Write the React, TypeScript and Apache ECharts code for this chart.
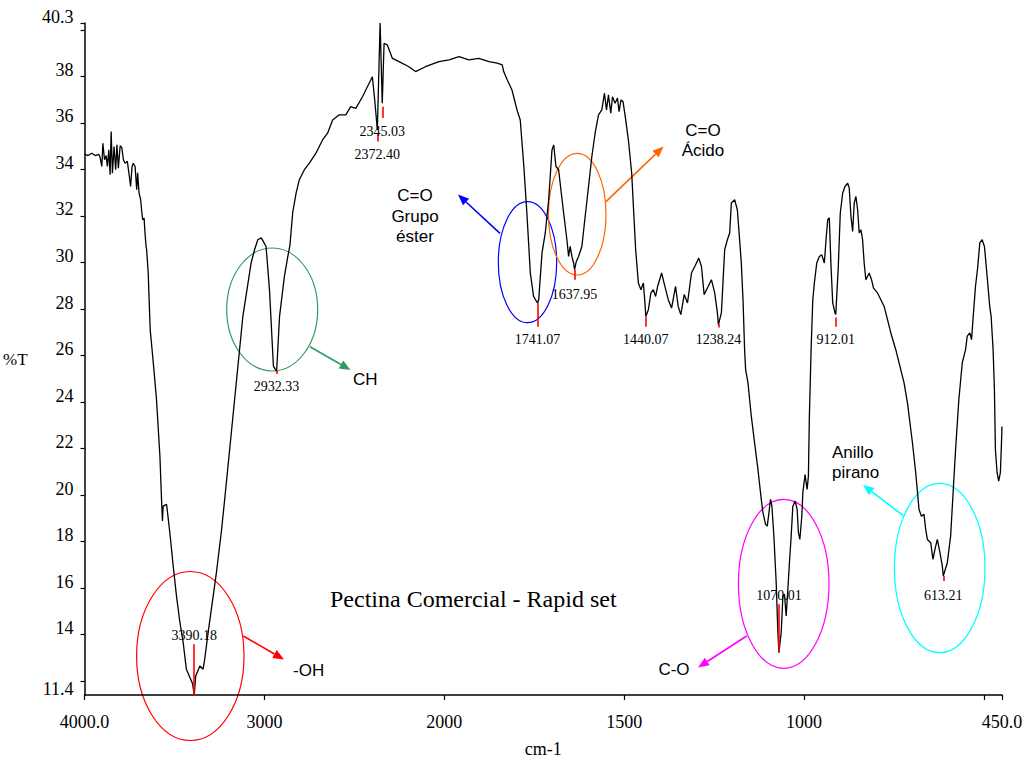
import React, { useEffect, useRef } from "react";
import * as echarts from "echarts";

// FTIR spectrum (wavenumber cm-1, %T)
const wavenumber = [
  4000, 3980, 3960, 3940, 3920, 3913, 3904, 3898, 3889, 3880, 3873, 3865, 3858, 3852, 3845, 3836, 3827, 3820, 3812, 3802,
  3793, 3784, 3775, 3762, 3751, 3744, 3736, 3729, 3719, 3710, 3705, 3697, 3688, 3683, 3677, 3669, 3664, 3658, 3655, 3646,
  3643, 3635, 3618, 3600, 3581, 3572, 3567, 3563, 3544, 3526, 3507, 3489, 3470, 3452, 3434, 3415, 3400, 3390.18, 3382, 3359,
  3341, 3332, 3313, 3295, 3267, 3240, 3221, 3175, 3120, 3074, 3055, 3037, 3018, 3009, 2991, 2972, 2950, 2932.33, 2916, 2889,
  2870, 2858, 2843, 2824, 2806, 2778, 2750, 2714, 2677, 2649, 2621, 2584, 2548, 2520, 2492, 2455, 2418, 2400, 2387, 2372.4,
  2357, 2345.03, 2335, 2317, 2289, 2252, 2197, 2160, 2105, 2030, 1987, 1959, 1932, 1904, 1876, 1853, 1839, 1835, 1825, 1812,
  1798, 1789, 1779, 1770, 1761, 1752, 1741.07, 1737.7, 1728.5, 1719.4, 1710, 1700.8, 1696, 1689.8, 1682.3, 1676, 1668.4, 1659.3, 1654.6, 1650.2,
  1645.4, 1640.7, 1637.95, 1633.5, 1626.9, 1617.7, 1608.6, 1599.2, 1590, 1580.9, 1571.5, 1562.3, 1554.9, 1549.3, 1543.8, 1537.4, 1532.7, 1525.5, 1518.8, 1514.4,
  1508.9, 1503.3, 1497.8, 1488.4, 1479.2, 1474.5, 1468.2, 1460.7, 1453.5, 1446.8, 1442.4, 1440.07, 1432.9, 1425.8, 1419.1, 1412.8, 1407.2, 1396.1, 1387, 1377.6,
  1368.4, 1357.4, 1349.9, 1342.7, 1333.3, 1324.1, 1313, 1303.9, 1292.8, 1285.3, 1277.9, 1266.8, 1257.6, 1248.5, 1241, 1238.24, 1229.9, 1220.8, 1213.3, 1206.9,
  1202.2, 1193.1, 1185.6, 1179.3, 1174.6, 1169.8, 1165.4, 1162.6, 1156, 1146.8, 1137.7, 1128.3, 1119.1, 1114.4, 1107.2, 1102.5, 1098.9, 1093.4, 1089.5, 1084,
  1077.6, 1072.9, 1070.01, 1063.7, 1059, 1054.6, 1049.9, 1045.2, 1040.8, 1036, 1031.4, 1024.9, 1019.4, 1015.8, 1011.9, 1006.4, 1003.6, 997.3, 991.7, 988.1,
  985.4, 980.6, 975.9, 971.5, 964.9, 957.6, 951, 943.8, 939.1, 934.4, 930, 925.2, 920.5, 914.2, 912.01, 905, 899.5, 892.9, 886.5, 879,
  874.6, 869.8, 865.1, 860.7, 856, 851.3, 846.9, 842.2, 837.5, 833.1, 828.4, 819.2, 812.6, 807.1, 796, 786.7, 777.6, 768.2, 759, 745.2,
  736.1, 722.2, 712.8, 698.9, 689.8, 680.6, 674, 666.8, 662.1, 657.4, 648.2, 641.9, 636.4, 629.7, 622.5, 615.9, 613.21, 602, 592.8, 585.4,
  579, 569.9, 560.5, 551.3, 546.6, 539.4, 534.7, 530, 523.7, 517.3, 511.8, 505.1, 498.8, 491.3, 484.1, 480.2, 474.7, 471.1, 468.3, 463.6,
  459.2, 454.5, 452, 450,
];

const transmittance = [
  34.66, 34.6, 34.7, 34.6, 34.65, 34.5, 34.13, 35.13, 34.42, 34.6, 34.13, 34.85, 33.77, 35.63, 33.84, 34.99, 33.99, 35.06, 34.06, 35.02,
  34.95, 34.42, 34.27, 34.35, 33.7, 33.27, 34.13, 34.27, 34.13, 33.13, 33.86, 32.98, 32.7, 32.27, 31.84, 31.91, 31.27, 30.69, 30.55, 29.56,
  28.83, 27.11, 25.7, 24.11, 21.67, 19.81, 18.88, 19.52, 19.6, 18.39, 16.94, 15.66, 14.53, 13.67, 12.51, 12.16, 11.9, 11.4, 12.22, 12.65,
  12.51, 12.94, 14.08, 15.09, 16.66, 18.39, 19.81, 23.39, 27.68, 29.98, 30.55, 30.98, 31.06, 30.94, 30.69, 28.83, 25.54, 25.32, 27.68, 29.4,
  30.26, 30.76, 32.14, 32.98, 33.56, 33.99, 34.27, 34.7, 35.27, 35.56, 36.13, 36.35, 36.35, 36.7, 36.63, 37.13, 37.71, 37.99, 36.99, 35.7,
  40.3, 36.85, 39.43, 39.35, 38.78, 38.64, 38.42, 38.21, 38.42, 38.64, 38.71, 38.85, 38.71, 38.78, 38.64, 38.57, 38.5, 38.21, 37.85, 37.42,
  36.56, 36.13, 34.13, 31.98, 29.55, 28.54, 28.26, 28.4, 30.41, 31.27, 32.7, 34.84, 35.06, 34.13, 33.99, 33.13, 32.13, 30.98, 30.26, 30.69,
  30.26, 29.98, 29.69, 30.03, 30.26, 30.69, 31.98, 33.27, 34.56, 35.56, 36.35, 36.56, 37.28, 36.56, 37.21, 36.42, 37.13, 36.85, 37.07, 36.49,
  36.99, 36.92, 36.35, 35.27, 33.84, 32.41, 30.55, 29.12, 28.83, 29.12, 28.26, 27.68, 27.97, 28.69, 28.83, 28.54, 28.97, 29.55, 28.97, 28.4,
  28.04, 28.97, 28.11, 27.76, 28.62, 28.26, 29.55, 29.83, 30.19, 29.83, 28.62, 28.97, 29.26, 28.69, 27.83, 27.33, 27.83, 30.55, 30.98, 31.27,
  32.56, 32.7, 32.27, 30.98, 29.98, 28.4, 26.25, 25.39, 24.82, 23.39, 22.25, 21.1, 19.81, 19.24, 18.74, 18.66, 19.09, 19.81, 19.52, 18.23,
  16.23, 14.08, 13.22, 14.08, 15.66, 15.73, 14.8, 15.94, 17.09, 18.23, 19.52, 19.74, 19.38, 18.38, 18.09, 19.09, 20.1, 20.88, 20.24, 20.81,
  23.39, 26.25, 28.4, 29.12, 29.98, 30.26, 30.33, 29.98, 30.98, 31.84, 31.92, 29.83, 28.26, 27.83, 27.76, 29.83, 32.13, 32.98, 33.27, 33.41,
  33.2, 31.98, 31.34, 32.56, 32.84, 32.27, 31.27, 31.41, 30.98, 29.98, 29.26, 29.55, 29.26, 28.9, 28.69, 28.4, 28.11, 27.54, 26.97, 26.25,
  25.68, 24.82, 23.96, 22.25, 20.96, 19.38, 19.09, 19.17, 18.52, 18.09, 17.95, 17.23, 17.66, 18.09, 17.52, 16.95, 16.52, 17.09, 18.23, 20.24,
  21.96, 24.11, 25.68, 26.25, 26.83, 26.97, 26.68, 27.68, 28.97, 29.83, 30.84, 30.98, 30.69, 29.4, 28.11, 27.68, 26.25, 24.54, 21.96, 20.96,
  20.6, 20.96, 22.0, 22.95,
];

// Labelled peaks
const peakWavenumbers = [3390.18, 2932.33, 2372.4, 2345.03, 1741.07, 1637.95, 1440.07, 1238.24, 1070.01, 912.01, 613.21];
const peakLabels = ["3390.18", "2932.33", "2372.40", "2345.03", "1741.07", "1637.95", "1440.07", "1238.24", "1070.01", "912.01", "613.21"];
// red marker segment (top %T, bottom %T)
const peakMarkTop = [13.58, 25.35, 35.57, 36.7, 28.27, 29.69, 27.67, 27.35, 15.3, 27.63, 16.52];
const peakMarkBottom = [11.4, 25.2, 35.2, 36.21, 27.24, 29.26, 27.24, 27.2, 13.24, 27.24, 16.3];
// %T where each label text sits
const peakLabelT = [13.94, 24.68, 34.63, 35.63, 26.68, 28.62, 26.68, 26.68, 15.66, 26.68, 15.66];

// axis ticks / labels (wavenumbers)
const xTickWavenumbers = [4000, 3000, 2000, 1500, 1000, 500, 450];
const xLabelWavenumbers = [4000, 3000, 2000, 1500, 1000, 450];
const yTickValues = [12, 14, 16, 18, 20, 22, 24, 26, 28, 30, 32, 34, 36, 38, 40, 40.3];
const yLabelValues = [11.4, 14, 16, 18, 20, 22, 24, 26, 28, 30, 32, 34, 36, 38, 40.3];

// spectrometer scale: 4000-2000 compressed, below 2000 expanded 2x
const toU = (w: number) => (w >= 2000 ? 4000 - w : 2000 + 2 * (2000 - w));
const fromU = (u: number) => (u <= 2000 ? 4000 - u : 2000 - (u - 2000) / 2);

const SERIF = "Liberation Serif";
const SANS = "Liberation Sans";

function arrow(x1: number, y1: number, x2: number, y2: number, color: string) {
  const dx = x2 - x1;
  const dy = y2 - y1;
  const len = Math.sqrt(dx * dx + dy * dy);
  const ux = dx / len;
  const uy = dy / len;
  const hl = 11;
  const hw = 4.5;
  const bx = x2 - ux * hl;
  const by = y2 - uy * hl;
  return [
    {
      type: "line",
      shape: { x1, y1, x2: bx, y2: by },
      style: { stroke: color, lineWidth: 1.6 },
      silent: true,
    },
    {
      type: "polygon",
      shape: {
        points: [
          [x2, y2],
          [bx - uy * hw, by + ux * hw],
          [bx + uy * hw, by - ux * hw],
        ],
      },
      style: { fill: color, stroke: "none" },
      silent: true,
    },
  ];
}

function ellipse(cx: number, cy: number, rx: number, ry: number, color: string) {
  return {
    type: "ellipse",
    shape: { cx, cy, rx, ry },
    style: { fill: "none", stroke: color, lineWidth: 1.2 },
    silent: true,
  };
}

function label(text: string, x: number, y: number, align: string, lh = 20) {
  return {
    type: "text",
    x,
    y,
    style: {
      text,
      fill: "#000",
      fontFamily: SANS,
      fontSize: 17,
      textAlign: align,
      textVerticalAlign: "middle",
      lineHeight: lh,
    },
    silent: true,
  };
}

export default function App() {
  const ref = useRef<HTMLDivElement>(null);

  useEffect(() => {
    if (!ref.current) return;
    const chart = echarts.init(ref.current, null, { renderer: "svg" });

    const seriesData = wavenumber.map((w, i) => [toU(w), transmittance[i]]);
    const markLines = peakWavenumbers.map((w, i) => [
      { coord: [toU(w), peakMarkTop[i]] },
      { coord: [toU(w), peakMarkBottom[i]] },
    ]);
    const markPoints = peakWavenumbers.map((w, i) => ({
      name: peakLabels[i],
      coord: [toU(w), peakLabelT[i]],
    }));

    const fmtW = (u: number) => {
      const w = Math.round(fromU(u) * 100) / 100;
      if (w === 4000) return "4000.0";
      if (w === 450) return "450.0";
      return String(w);
    };

    const graphics: any[] = [
      ellipse(190.3, 656, 53.7, 84.5, "#ff0000"),
      ellipse(272.2, 309.5, 45.5, 61.5, "#339966"),
      ellipse(527.5, 262.2, 29.2, 60.5, "#0000ff"),
      ellipse(577.2, 214.2, 28.8, 60.8, "#ff6600"),
      ellipse(783.7, 583.8, 45.3, 84.5, "#ff00ff"),
      ellipse(939.7, 568, 45.3, 84.7, "#00ffff"),
      ...arrow(243.3, 636, 284, 659.5, "#ff0000"),
      ...arrow(310, 346.7, 350.5, 370, "#339966"),
      ...arrow(500, 233.3, 458, 194.5, "#0000ff"),
      ...arrow(606, 201.7, 663.5, 146.5, "#ff6600"),
      ...arrow(746.7, 636, 698, 667.5, "#ff00ff"),
      ...arrow(903.3, 515.7, 863, 485, "#00ffff"),
      label("-OH", 293, 670, "left"),
      label("CH", 353, 379.5, "left"),
      label("C=O\nGrupo\néster", 415, 216, "center", 20.5),
      label("C=O\nÁcido", 703, 140, "center", 20),
      label("C-O", 674, 669.5, "center"),
      label("Anillo\npirano", 832, 462.7, "left", 20),
    ];

    chart.setOption({
      animation: false,
      backgroundColor: "#ffffff",
      textStyle: { fontFamily: SERIF, color: "#000" },
      title: {
        text: "Pectina Comercial - Rapid set",
        left: 330,
        top: 587,
        padding: 0,
        textStyle: { fontFamily: SERIF, fontSize: 24, fontWeight: "normal", color: "#000" },
      },
      grid: { left: 81, right: 27, top: 23, bottom: 67, containLabel: false },
      xAxis: {
        type: "value",
        min: 0,
        max: 5100,
        name: "cm-1",
        nameLocation: "middle",
        nameGap: 45,
        nameTextStyle: { fontFamily: SERIF, fontSize: 18, color: "#000" },
        axisLine: { show: true, lineStyle: { color: "#000", width: 1.5 } },
        axisTick: {
          show: true,
          length: 5,
          inside: false,
          lineStyle: { color: "#000", width: 1.2 },
          customValues: xTickWavenumbers.map(toU),
        },
        axisLabel: {
          show: true,
          margin: 18,
          fontFamily: SERIF,
          fontSize: 18,
          color: "#000",
          customValues: xLabelWavenumbers.map(toU),
          formatter: (v: number) => fmtW(v),
        },
        splitLine: { show: false },
      },
      yAxis: {
        type: "value",
        min: 11.4,
        max: 40.3,
        name: "%T",
        nameLocation: "middle",
        nameGap: 57,
        nameRotate: 0,
        nameTextStyle: { fontFamily: SERIF, fontSize: 17, color: "#000" },
        axisLine: { show: true, lineStyle: { color: "#000", width: 1.5 } },
        axisTick: {
          show: true,
          length: 4,
          inside: false,
          lineStyle: { color: "#000", width: 1.2 },
          customValues: yTickValues,
        },
        axisLabel: {
          show: true,
          margin: 11,
          fontFamily: SERIF,
          fontSize: 18,
          color: "#000",
          verticalAlign: "bottom",
          lineHeight: 13,
          customValues: yLabelValues,
          formatter: (v: number) => String(v),
        },
        splitLine: { show: false },
      },
      series: [
        {
          type: "line",
          data: seriesData,
          showSymbol: false,
          symbol: "none",
          clip: true,
          lineStyle: { color: "#000", width: 1.3 },
          silent: true,
          markLine: {
            silent: true,
            symbol: ["none", "none"],
            label: { show: false },
            lineStyle: { color: "#ff0000", width: 1.6, type: "solid" },
            data: markLines,
          },
          markPoint: {
            silent: true,
            symbol: "circle",
            symbolSize: 1,
            itemStyle: { color: "rgba(0,0,0,0)" },
            label: {
              show: true,
              position: "inside",
              formatter: "{b}",
              fontFamily: SERIF,
              fontSize: 14,
              color: "#000",
            },
            data: markPoints,
          },
        },
      ],
      graphic: graphics,
    });

    return () => chart.dispose();
  }, []);

  return (
    <div
      ref={ref}
      style={{ position: "absolute", left: 0, top: 0, width: 1029, height: 763, background: "#fff" }}
    />
  );
}
